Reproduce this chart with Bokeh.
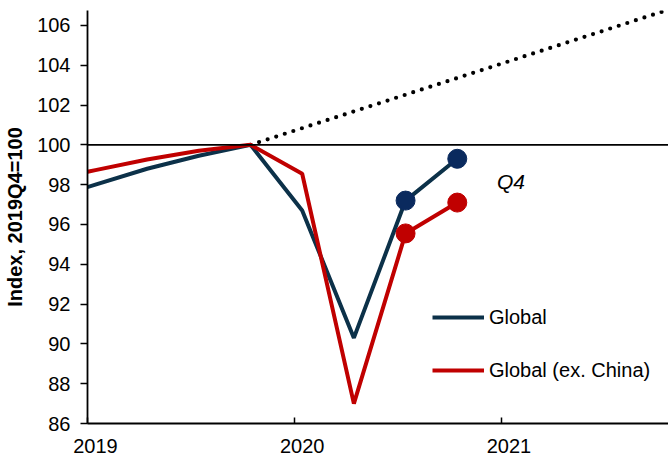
from bokeh.plotting import figure
from bokeh.models import Range1d, FixedTicker, Span, Legend, LegendItem, Label, NumeralTickFormatter
from bokeh.embed import file_html
from bokeh.resources import INLINE

quarters = ["2018Q4", "2019Q1", "2019Q2", "2019Q3", "2019Q4",
            "2020Q1", "2020Q2", "2020Q3", "2020Q4"]
global_idx = [97.2, 98.0, 98.8, 99.45, 100.0, 96.7, 90.3, 97.2, 99.3]
global_ex_china = [98.18, 98.73, 99.26, 99.7, 100.0, 98.55, 87.0, 95.55, 97.1]
latest_quarters = ["2020Q3", "2020Q4"]
latest_global = [97.2, 99.3]
latest_ex_china = [95.55, 97.1]
trend_quarters = ["2019Q4", "2020Q1", "2020Q2", "2020Q3", "2020Q4",
                  "2021Q1", "2021Q2", "2021Q3", "2021Q4"]
trend = [100.0, 100.84, 101.68, 102.52, 103.36, 104.2, 105.04, 105.88, 106.72]
year_ticks = [2019, 2020, 2021]
y_ticks = [86, 88, 90, 92, 94, 96, 98, 100, 102, 104, 106]

FONT = "Liberation Sans"
BLUE = "#0c3149"
BLUE_DOT = "#0a2a5e"
RED = "#c00000"


def qpos(q):
    yr = int(q[:4])
    n = int(q[5])
    return yr + ((n - 1) * 3 * 30.44 + 14) / 365.25


p = figure(width=668, height=459, output_backend="svg", toolbar_location=None,
           x_range=Range1d(2019.0, 2021.81), y_range=Range1d(86, 106.75),
           min_border_left=87, min_border_right=0, min_border_top=10,
           min_border_bottom=36)
p.outline_line_color = None
p.xgrid.visible = False
p.ygrid.visible = False

# reference line at 100
p.add_layout(Span(location=100, dimension="width", line_color="black", line_width=1.6))

# trend (dotted)
p.line([qpos(q) for q in trend_quarters], trend, line_color="black", line_width=4.2,
       line_dash="0 9", line_cap="round")

xs = [qpos(q) for q in quarters]
r_blue = p.line(xs, global_idx, line_color=BLUE, line_width=4)
p.scatter([qpos(q) for q in latest_quarters], latest_global, size=19,
          fill_color=BLUE_DOT, line_color=BLUE_DOT)
r_red = p.line(xs, global_ex_china, line_color=RED, line_width=4)
p.scatter([qpos(q) for q in latest_quarters], latest_ex_china, size=19,
          fill_color=RED, line_color=RED)

# axes
xa = p.xaxis[0]
xa.ticker = FixedTicker(ticks=[y + 14 / 365.25 for y in year_ticks], minor_ticks=year_ticks)
xa.formatter = NumeralTickFormatter(format="0")
xa.major_tick_in = 0
xa.major_tick_out = 0
xa.minor_tick_in = 6
xa.minor_tick_out = 0
xa.minor_tick_line_color = "black"
xa.minor_tick_line_width = 1.5
xa.axis_line_color = "black"
xa.axis_line_width = 1.8
xa.major_label_standoff = 15
xa.major_label_text_font = FONT
xa.major_label_text_font_size = "20px"
xa.major_label_text_color = "black"

ya = p.yaxis[0]
ya.ticker = FixedTicker(ticks=y_ticks)
ya.major_tick_in = 0
ya.major_tick_out = 7
ya.major_tick_line_color = "black"
ya.major_tick_line_width = 1.5
ya.minor_tick_line_color = None
ya.axis_line_color = "black"
ya.axis_line_width = 1.8
ya.major_label_standoff = 10
ya.major_label_text_font = FONT
ya.major_label_text_font_size = "20px"
ya.major_label_text_color = "black"
ya.axis_label = "Index, 2019Q4=100"
ya.axis_label_text_font = FONT
ya.axis_label_text_font_size = "20px"
ya.axis_label_text_font_style = "bold"
ya.axis_label_text_color = "black"
ya.axis_label_standoff = 8

legend = Legend(items=[LegendItem(label="Global", renderers=[r_blue]),
                       LegendItem(label="Global (ex. China)", renderers=[r_red])],
                location=(345, 41), border_line_color=None, background_fill_alpha=0,
                padding=0, margin=0, glyph_width=52, glyph_height=24, label_height=24,
                spacing=29, label_standoff=5, label_text_font=FONT,
                label_text_font_size="20px", label_text_color="black")
p.add_layout(legend)

p.add_layout(Label(x=2020.98, y=98.16, text="Q4", text_font=FONT, text_font_style="italic",
                   text_font_size="21px", text_baseline="middle", text_align="left",
                   text_color="black"))

open("out.html", "w").write(file_html(p, INLINE))
